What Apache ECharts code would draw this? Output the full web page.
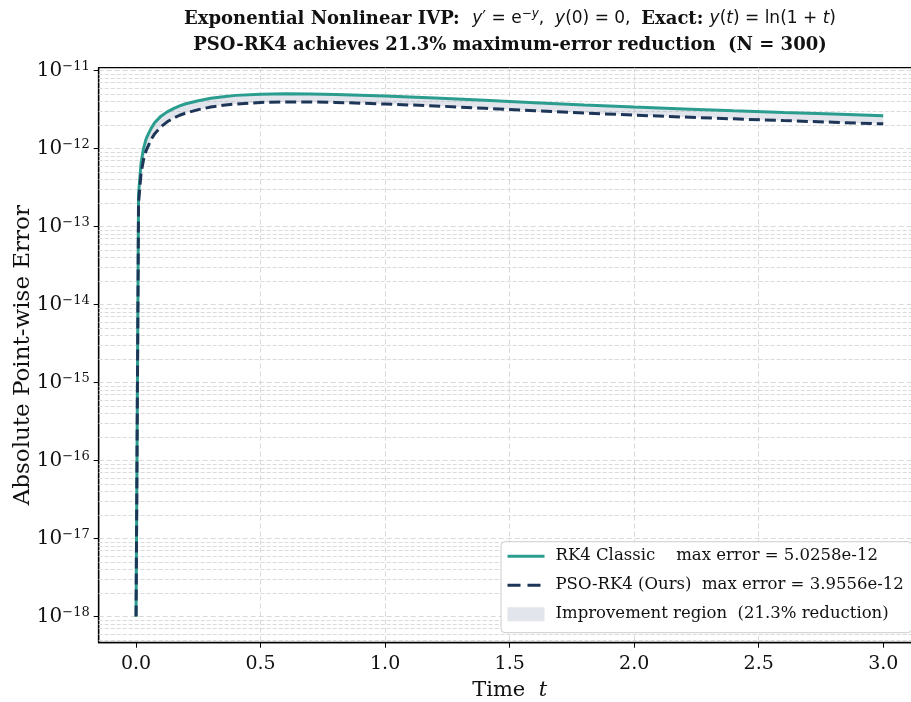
<!DOCTYPE html>
<html><head><meta charset="utf-8">
<script src="https://cdn.jsdelivr.net/npm/echarts@6/dist/echarts.min.js"></script>
<style>html,body{margin:0;padding:0;background:#fff}#c{width:911px;height:702px}</style>
</head><body><div id="c"></div>
<script>
// ---- data ----
const tValues   = [0, 0.01, 0.02, 0.03, 0.04, 0.05, 0.06, 0.075, 0.1, 0.125, 0.15, 0.175, 0.2, 0.25, 0.3, 0.35, 0.4, 0.5, 0.6, 0.7, 0.8, 1.0, 1.2, 1.4, 1.6, 1.8, 2.0, 2.2, 2.4, 2.6, 2.8, 3.0];
const rk4Error  = [1e-18, 2.6e-13, 6.5e-13, 1.0e-12, 1.32e-12, 1.55e-12, 1.8e-12, 2.15e-12, 2.6e-12, 2.95e-12, 3.25e-12, 3.52e-12, 3.75e-12, 4.1e-12, 4.4e-12, 4.62e-12, 4.8e-12, 4.97e-12, 5.0258e-12, 5.0e-12, 4.93e-12, 4.7e-12, 4.45e-12, 4.15e-12, 3.87e-12, 3.6e-12, 3.4e-12, 3.22e-12, 3.05e-12, 2.9e-12, 2.76e-12, 2.63e-12];
const psoError  = [1e-18, 2.0e-13, 4.8e-13, 7.2e-13, 0.93e-12, 1.1e-12, 1.3e-12, 1.55e-12, 1.9e-12, 2.2e-12, 2.45e-12, 2.67e-12, 2.85e-12, 3.15e-12, 3.4e-12, 3.58e-12, 3.72e-12, 3.9e-12, 3.9556e-12, 3.95e-12, 3.9e-12, 3.72e-12, 3.52e-12, 3.28e-12, 3.05e-12, 2.85e-12, 2.68e-12, 2.53e-12, 2.4e-12, 2.28e-12, 2.17e-12, 2.07e-12];
const xTickValues = [0, 0.5, 1.0, 1.5, 2.0, 2.5, 3.0];
const yDecades = [-19, -18, -17, -16, -15, -14, -13, -12, -11];
const minorFactors = [2, 3, 4, 5, 6, 7, 8, 9];
const legendNames = ['RK4 Classic    max error = 5.0258e-12', 'PSO-RK4 (Ours)  max error = 3.9556e-12', 'Improvement region  (21.3% reduction)'];

const SERIF = '"DejaVu Serif", serif';
const SANS = '"DejaVu Sans", sans-serif';
const teal = '#2a9d8f', navy = '#1d3557', fillCol = 'rgba(141,153,174,0.25)';
const xMin = -0.15, xMax = 3.15;

const rk4Pts = tValues.map((t, i) => [t, rk4Error[i]]);
const psoPts = tValues.map((t, i) => [t, psoError[i]]);

const yMin = Math.pow(10, -18.335), yMax = Math.pow(10, -10.964);
const minorLines = [];
yDecades.forEach(d => minorFactors.forEach(f => {
  const v = f * Math.pow(10, d);
  if (v > yMin && v < yMax) minorLines.push([{ coord: [xMin, v] }, { coord: [xMax, v] }]);
}));

const chart = echarts.init(document.getElementById('c'), null, { renderer: 'canvas' });
chart.setOption({
  animation: false,
  backgroundColor: '#fff',
  grid: { left: 98.7, top: 67.7, right: -9.6, bottom: 59.3, containLabel: false, outerBoundsMode: 'none',
    show: true, borderColor: '#000', borderWidth: 1.3, backgroundColor: 'transparent' },
  graphic: [
    { type: 'text', x: 510, y: 8, z: 10, style: {
      text: '{b|Exponential Nonlinear IVP:  }{i|y}{m|′ = e}{s|−y}{m|,  }{i|y}{m|(0) = 0,  }{b|Exact: }{i|y}{m|(}{i|t}{m|) = ln(1 + }{i|t}{m|)}',
      align: 'center', verticalAlign: 'top',
      rich: {
        b: { fontFamily: SERIF, fontWeight: 'bold', fontSize: 18, fill: '#111', lineHeight: 22 },
        m: { fontFamily: SANS, fontSize: 17, fill: '#111', lineHeight: 22 },
        i: { fontFamily: SANS, fontStyle: 'italic', fontSize: 17, fill: '#111', lineHeight: 22 },
        s: { fontFamily: SANS, fontStyle: 'italic', fontSize: 12, fill: '#111', verticalAlign: 'top', lineHeight: 12 }
      }
    } },
    { type: 'text', x: 510, y: 36, z: 10, style: {
      text: 'PSO-RK4 achieves 21.3% maximum-error reduction  (N = 300)',
      align: 'center', verticalAlign: 'top',
      fontFamily: SERIF, fontWeight: 'bold', fontSize: 18, fill: '#111'
    } }
  ],
  xAxis: {
    type: 'value', min: xMin, max: xMax,
    name: '{n|Time  }{i|t}', nameLocation: 'middle', nameGap: 37,
    nameTextStyle: { rich: {
      n: { fontFamily: SERIF, fontSize: 21, color: '#111' },
      i: { fontFamily: SERIF, fontStyle: 'italic', fontSize: 21, color: '#111' }
    } },
    axisLine: { show: true, onZero: false, lineStyle: { color: '#000', width: 1.3 } },
    axisTick: { show: true, inside: false, length: 5, customValues: xTickValues, lineStyle: { color: '#000', width: 1 } },
    axisLabel: { customValues: xTickValues, margin: 12, fontFamily: SERIF, fontSize: 19, color: '#111',
      formatter: v => v.toFixed(1) },
    splitLine: { show: true, showMinLine: false, showMaxLine: false, lineStyle: { color: '#d9d9d9', type: [5, 3], width: 1 } }
  },
  yAxis: {
    type: 'log', logBase: 10, min: yMin, max: yMax,
    name: 'Absolute Point-wise Error', nameLocation: 'middle', nameGap: 64, nameMoveOverlap: false,
    nameTextStyle: { fontFamily: SERIF, fontSize: 23, color: '#111' },
    axisLine: { show: true, onZero: false, lineStyle: { color: '#000', width: 1.3 } },
    axisTick: { show: true, inside: false, length: 5, lineStyle: { color: '#000', width: 1 } },
    axisLabel: { margin: 9, showMinLabel: false, showMaxLabel: false,
      formatter: v => {
        const lg = Math.log10(v), e = Math.round(lg);
        if (Math.abs(lg - e) > 1e-6) return '';
        return '{b|10}{s|' + (e < 0 ? '−' : '') + Math.abs(e) + '}';
      },
      rich: {
        b: { fontFamily: SERIF, fontSize: 20, color: '#111' },
        s: { fontFamily: SERIF, fontSize: 13, color: '#111', verticalAlign: 'top' }
      } },
    splitLine: { show: true, showMinLine: false, showMaxLine: false, lineStyle: { color: '#d9d9d9', type: [5, 3], width: 1 } }
  },
  legend: {
    orient: 'vertical', left: 501, top: 541.7, z: 20,
    padding: [6, 8, 10, 5], itemGap: 12, itemWidth: 37, itemHeight: 14,
    backgroundColor: 'rgba(255,255,255,0.95)', borderColor: '#cccccc', borderWidth: 1, borderRadius: 4,
    textStyle: { fontFamily: SERIF, fontSize: 16.5, color: '#111', padding: [0, 0, 0, 6] },
    data: [
      { name: legendNames[0], itemStyle: { opacity: 0 }, lineStyle: { width: 3, color: teal } },
      { name: legendNames[1], itemStyle: { opacity: 0 }, lineStyle: { width: 3, color: navy, type: [13, 7] } },
      { name: legendNames[2], icon: 'rect', itemStyle: { color: fillCol, borderWidth: 0 } }
    ]
  },
  series: [
    { name: legendNames[2], type: 'custom', silent: true, z: 2, data: [[0, yMin]],
      itemStyle: { color: fillCol },
      renderItem: (params, api) => {
        const top = tValues.map((t, i) => api.coord([t, rk4Error[i]]));
        const bot = tValues.map((t, i) => api.coord([t, psoError[i]])).reverse();
        return { type: 'polygon', shape: { points: top.concat(bot) }, style: { fill: fillCol } };
      } },
    { name: legendNames[0], type: 'line', data: rk4Pts, symbol: 'none', z: 3,
      lineStyle: { color: teal, width: 3 }, itemStyle: { color: teal },
      markLine: { silent: true, z: 1, symbol: ['none', 'none'], label: { show: false }, animation: false,
        lineStyle: { color: '#dadada', type: [4, 2], width: 1 }, data: minorLines } },
    { name: legendNames[1], type: 'line', data: psoPts, symbol: 'none', z: 4,
      lineStyle: { color: navy, width: 3, type: [11, 5] }, itemStyle: { color: navy } }
  ]
});
</script></body></html>
